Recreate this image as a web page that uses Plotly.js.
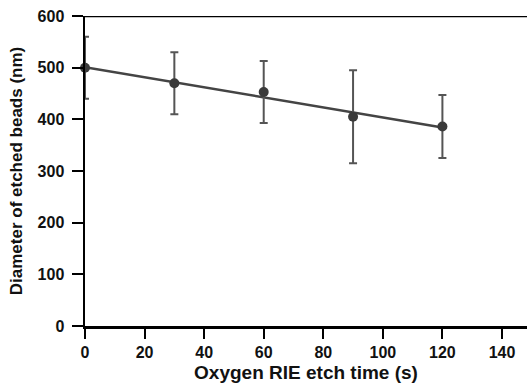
<!DOCTYPE html>
<html><head><meta charset="utf-8">
<script src="https://cdn.plot.ly/plotly-3.0.1.min.js"></script>
<style>html,body{margin:0;padding:0;background:#fff}</style>
</head><body>
<div id="chart" style="width:527px;height:387px"></div>
<script>
const etchTime = [0, 30, 60, 90, 120];
const diameter = [500, 470, 453, 405, 386];
const errorNm = [60, 60, 60, 90, 61];
const fitTime = [0, 120];
const fitDiameter = [501, 384];
const xTicks = [0, 20, 40, 60, 80, 100, 120, 140];
const yTicks = [0, 100, 200, 300, 400, 500, 600];

const fam = 'Liberation Sans, Arial, sans-serif';
const tickFont = {family: fam, size: 16, color: '#111'};

const traces = [
  {x: fitTime, y: fitDiameter, mode: 'lines', line: {color: '#444', width: 2.5}, hoverinfo: 'skip', cliponaxis: false},
  {x: etchTime, y: diameter, mode: 'markers', cliponaxis: false,
   marker: {color: '#3a3a3a', size: 10},
   error_y: {type: 'data', array: errorNm, visible: true, color: '#555', thickness: 2, width: 4}}
];

const layout = {
  width: 527, height: 387,
  margin: {l: 85, r: 0, t: 16, b: 61},
  showlegend: false,
  paper_bgcolor: '#fff', plot_bgcolor: '#fff',
  font: {family: fam, size: 14, color: '#111'},
  xaxis: {
    range: [0, 148.4], tickvals: xTicks, ticktext: xTicks.map(v => '<b>' + v + '</b>'),
    showgrid: false, zeroline: false, showline: true, linecolor: '#000', linewidth: 2.5,
    ticks: 'outside', ticklen: 10, tickwidth: 2, tickcolor: '#000',
    tickfont: tickFont, automargin: false,
    title: {text: '<b>Oxygen RIE etch time (s)</b>', font: {family: fam, size: 19, color: '#111'}, standoff: 6}
  },
  yaxis: {
    range: [0, 600], tickvals: yTicks, ticktext: yTicks.map(v => '<b>' + v + '</b>'),
    showgrid: false, zeroline: false, showline: true, linecolor: '#000', linewidth: 2.5,
    ticks: 'outside', ticklen: 11, tickwidth: 2, tickcolor: '#000',
    tickfont: tickFont, ticklabelstandoff: 4, automargin: false,
    title: {text: '<b>Diameter of etched beads (nm)</b>', font: {family: fam, size: 17, color: '#111'}, standoff: 11}
  },
  shapes: [
    {type: 'line', xref: 'paper', yref: 'y', x0: 0, x1: 1, y0: 600, y1: 600, line: {color: '#000', width: 2.5}}
  ]
};

Plotly.newPlot('chart', traces, layout, {displayModeBar: false, staticPlot: true});
</script>
</body></html>
